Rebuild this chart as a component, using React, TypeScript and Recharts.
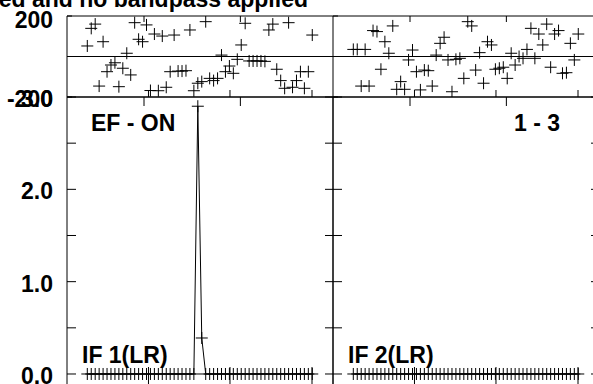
import React from "react";
import { LineChart, Line, XAxis, YAxis, ReferenceLine } from "recharts";

// channel index (after edge channels dropped)
const CHANNELS = [
  1, 2, 3, 4, 5, 6, 7, 8, 9, 10, 11, 12, 13, 14, 15, 16, 17, 18, 19, 20,
  21, 22, 23, 24, 25, 26, 27, 28, 29, 30, 31, 32, 33, 34, 35, 36, 37, 38, 39, 40,
  41, 42, 43, 44, 45, 46, 47, 48, 49, 50, 51, 52, 53, 54, 55, 56, 57, 58,
];

// phase in degrees
const PHASE_IF1 = [
  52, 139, 160, -146, 73, -75, -42, -31, -149, -58, 16, -91, 167, 85, 73, 156, -168, 111, -169, 101,
  -152, -75, 106, -72, -72, -70, 131, -169, -132, -124, 172, -108, -119, -108, 7, -75, -47, -83, -14, 57,
  164, -22, -22, -22, -22, -24, 131, 160, -63, -119, -157, 167, -152, -119, -75, -157, -75, 106,
];
const PHASE_IF2 = [
  35, 35, -146, 35, -146, 128, 123, -63, 73, 16, 151, -162, -124, -162, -17, 32, -75, -165, -67, -70,
  -146, 7, 65, 95, -17, -174, -14, -9, -108, 172, 151, -67, 19, -132, 73, 57, -63, -58, -53, -108,
  16, -42, 0, -9, 35, 139, -9, 111, 57, 160, -53, 111, 128, -83, -80, 65, -17, 111,
];

// amplitude (Jy)
const AMP_IF1 = [
  0, 0, 0, 0, 0, 0, 0, 0, 0, 0, 0, 0, 0, 0, 0, 0, 0, 0, 0, 0,
  0, 0, 0, 0, 0, 0, 0, 0, 2.9, 0.39, 0, 0, 0, 0, 0, 0, 0, 0, 0, 0,
  0, 0, 0, 0, 0, 0, 0, 0, 0, 0, 0, 0, 0, 0, 0, 0, 0, 0,
];
const AMP_IF2 = [
  0, 0, 0, 0, 0, 0, 0, 0, 0, 0, 0, 0, 0, 0, 0, 0, 0, 0, 0, 0,
  0, 0, 0, 0, 0, 0, 0, 0, 0, 0, 0, 0, 0, 0, 0, 0, 0, 0, 0, 0,
  0, 0, 0, 0, 0, 0, 0, 0, 0, 0, 0, 0, 0, 0, 0, 0, 0, 0,
];

const X_DOMAIN = [-4.143, 63.25];
const X_TICKS = [16.5, 37.15, 57.93];
const PHASE_TICKS = [-200, 200];
const PHASE_LABELS = ["-200", "200"];
const AMP_TICKS = [0, 0.5, 1, 1.5, 2, 2.5, 3];
const AMP_LABELS: Record<string, string> = { "0": "0.0", "1": "1.0", "2": "2.0", "3": "3.0" };

const TITLE = "No calibration applied and no bandpass applied";
const SOURCE = "EF - ON";
const BASELINE = "1 - 3";
const IF_LABELS = ["IF 1(LR)", "IF 2(LR)"];

const if1 = CHANNELS.map((ch, i) => ({ ch, phase: PHASE_IF1[i], amp: AMP_IF1[i] }));
const if2 = CHANNELS.map((ch, i) => ({ ch, phase: PHASE_IF2[i], amp: AMP_IF2[i] }));

const FONT = "'Liberation Sans', Arial, Helvetica, sans-serif";
const labelStyle = { fontFamily: FONT, fontWeight: 700, fontSize: 23, fill: "#000" };

const cross = (p: any) => {
  const { cx, cy, index } = p;
  if (cx == null || cy == null) return <g key={`n${index}`} />;
  return (
    <path
      key={`c${index}`}
      d={`M${cx - 6},${cy}H${cx + 6}M${cx},${cy - 6}V${cy + 6}`}
      stroke="#000"
      strokeWidth={1}
      fill="none"
    />
  );
};

// tick marks only, no text
const noLabel = () => <g />;

const PhaseTick = (props: any) => {
  const { x, y, payload } = props;
  const i = PHASE_TICKS.indexOf(payload.value);
  return (
    <text x={x} y={y + (payload.value > 0 ? 4 : 2)} textAnchor="end" dominantBaseline="central" style={labelStyle}>
      {PHASE_LABELS[i]}
    </text>
  );
};

const AmpTick = (props: any) => {
  const { x, y, payload } = props;
  const label = AMP_LABELS[String(payload.value)];
  if (!label) return <g />;
  return (
    <text x={x} y={y + 2} textAnchor="end" dominantBaseline="central" style={labelStyle}>
      {label}
    </text>
  );
};

function PhasePanel({ data, first }: { data: any[]; first: boolean }) {
  return (
    <LineChart
      width={first ? 334 : 268}
      height={112}
      data={data}
      margin={{ top: 16, right: 1, bottom: 15, left: first ? 0 : 1 }}
    >
      <XAxis xAxisId="b" dataKey="ch" type="number" domain={X_DOMAIN} allowDataOverflow ticks={X_TICKS}
        mirror tick={noLabel} tickSize={7} stroke="#000" />
      <XAxis xAxisId="t" orientation="top" type="number" domain={X_DOMAIN} allowDataOverflow ticks={X_TICKS}
        mirror tick={noLabel} tickSize={6} stroke="#000" />
      {first ? (
        <YAxis yAxisId="l" type="number" domain={[-200, 200]} allowDataOverflow ticks={PHASE_TICKS}
          width={67} tickSize={-5} tickMargin={19} tick={<PhaseTick />} stroke="#000" />
      ) : (
        <YAxis yAxisId="l" type="number" domain={[-200, 200]} allowDataOverflow ticks={PHASE_TICKS}
          mirror tick={noLabel} tickSize={5} stroke="#000" />
      )}
      <ReferenceLine xAxisId="b" yAxisId="l" y={0} stroke="#000" />
      <Line xAxisId="b" yAxisId="l" dataKey="phase" stroke="none" dot={cross} activeDot={false}
        isAnimationActive={false} />
    </LineChart>
  );
}

function AmpPanel({ data, first }: { data: any[]; first: boolean }) {
  return (
    <LineChart
      width={first ? 334 : 268}
      height={307}
      data={data}
      margin={{ top: 17, right: 1, bottom: 1, left: first ? 0 : 1 }}
    >
      <XAxis xAxisId="b" dataKey="ch" type="number" domain={X_DOMAIN} allowDataOverflow ticks={X_TICKS}
        mirror tick={noLabel} tickSize={19} stroke="#000" />
      <XAxis xAxisId="t" orientation="top" type="number" domain={X_DOMAIN} allowDataOverflow ticks={X_TICKS}
        mirror tick={noLabel} tickSize={9} stroke="#000" />
      {first ? (
        <YAxis yAxisId="l" type="number" domain={[-0.13, 3]} allowDataOverflow ticks={AMP_TICKS}
          width={67} tickSize={-9} tickMargin={23} tick={<AmpTick />} stroke="#000" />
      ) : (
        <YAxis yAxisId="l" type="number" domain={[-0.13, 3]} allowDataOverflow ticks={AMP_TICKS}
          mirror tick={noLabel} tickSize={9} stroke="#000" />
      )}
      <YAxis yAxisId="r" orientation="right" type="number" domain={[-0.13, 3]} allowDataOverflow ticks={AMP_TICKS}
        mirror tick={noLabel} tickSize={8} stroke="#000" />
      <Line xAxisId="b" yAxisId="l" dataKey="amp" type="linear" stroke="#000" strokeWidth={1} dot={cross}
        activeDot={false} isAnimationActive={false} />
    </LineChart>
  );
}

export default function App() {
  return (
    <div style={{ position: "absolute", left: 0, top: 0, width: 593, height: 384, overflow: "hidden", background: "#fff" }}>
      <div style={{ position: "absolute", left: 0, top: 0 }}>
        <PhasePanel data={if1} first />
      </div>
      <div style={{ position: "absolute", left: 332, top: 0 }}>
        <PhasePanel data={if2} first={false} />
      </div>
      <div style={{ position: "absolute", left: 0, top: 80 }}>
        <AmpPanel data={if1} first />
      </div>
      <div style={{ position: "absolute", left: 332, top: 80 }}>
        <AmpPanel data={if2} first={false} />
      </div>
      <svg width={593} height={384} style={{ position: "absolute", left: 0, top: 0, pointerEvents: "none" }}>
        <text x={308} y={7} textAnchor="end" style={labelStyle}>{TITLE}</text>
        <text x={91} y={131} style={labelStyle}>{SOURCE}</text>
        <text x={560} y={131} textAnchor="end" style={labelStyle}>{BASELINE}</text>
        <text x={82} y={363} style={labelStyle}>{IF_LABELS[0]}</text>
        <text x={348} y={363} style={labelStyle}>{IF_LABELS[1]}</text>
      </svg>
    </div>
  );
}
